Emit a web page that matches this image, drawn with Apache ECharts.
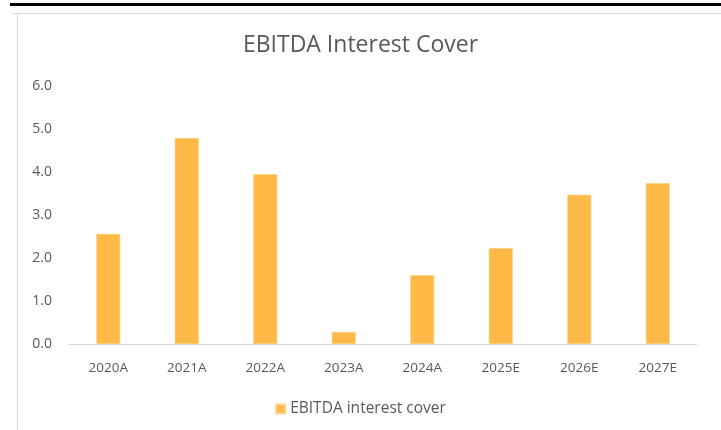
<!DOCTYPE html>
<html>
<head>
<meta charset="utf-8">
<script src="https://cdn.jsdelivr.net/npm/echarts@6/dist/echarts.min.js"></script>
<style>html,body{margin:0;padding:0;background:#fff}#c{width:721px;height:430px}</style>
</head>
<body>
<div id="c"></div>
<script>
const categories = ['2020A','2021A','2022A','2023A','2024A','2025E','2026E','2027E'];
const coverValues = [2.56, 4.79, 3.95, 0.28, 1.60, 2.23, 3.47, 3.74];
const seriesName = 'EBITDA interest cover';
const titleText = 'EBITDA Interest Cover';

const chart = echarts.init(document.getElementById('c'), null, {renderer:'canvas'});
const font = 'Open Sans';
chart.setOption({
  animation: false,
  backgroundColor: '#fff',
  title: {
    text: titleText, left: 'center', top: 29,
    textStyle: {fontFamily: font, fontSize: 23, fontWeight: 'normal', color: '#595959'}
  },
  legend: {
    top: 396, left: 'center', itemWidth: 9, itemHeight: 9, itemGap: 5,
    icon: 'rect',
    textStyle: {fontFamily: font, fontSize: 15.5, color: '#595959', padding: [0, 0, 0, 0]},
    data: [seriesName]
  },
  grid: {left: 69, right: 24, top: 86, bottom: 86, containLabel: false},
  xAxis: {
    type: 'category', data: categories,
    axisLine: {lineStyle: {color: '#d9d9d9', width: 1}},
    axisTick: {show: false},
    axisLabel: {fontFamily: font, fontSize: 13.5, color: '#595959', margin: 17}
  },
  yAxis: {
    type: 'value', min: 0, max: 6, interval: 1,
    splitLine: {show: false},
    axisLine: {show: false}, axisTick: {show: false},
    axisLabel: {fontFamily: font, fontSize: 14, color: '#595959', margin: 17,
      formatter: v => v.toFixed(1)}
  },
  series: [{
    name: seriesName, type: 'bar', data: coverValues, barWidth: 24,
    itemStyle: {color: '#FFB946', borderColor: '#FFD38A', borderWidth: 0.6}
  }],
  graphic: [
    {type: 'rect', shape: {x: 10, y: 3, width: 711, height: 3}, style: {fill: '#000'}, silent: true},
    {type: 'line', shape: {x1: 12, y1: 13.5, x2: 721, y2: 13.5}, style: {stroke: '#d9d9d9', lineWidth: 1}, silent: true},
    {type: 'line', shape: {x1: 17.5, y1: 13, x2: 17.5, y2: 430}, style: {stroke: '#d9d9d9', lineWidth: 1}, silent: true}
  ]
});
</script>
</body>
</html>
